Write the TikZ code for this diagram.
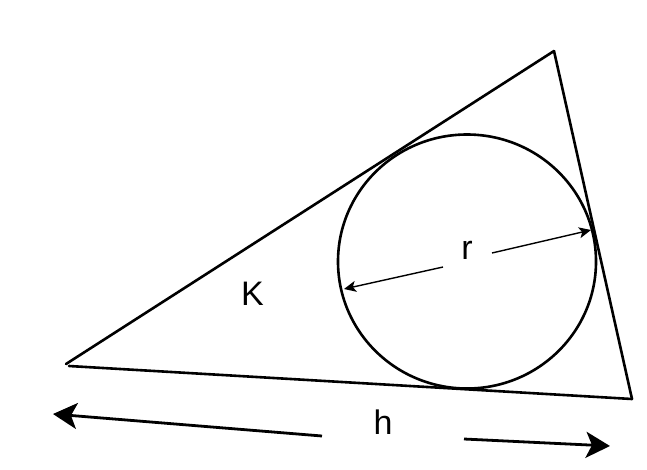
\documentclass[tikz,border=0pt]{standalone}
\usepackage{fontspec}
\setmainfont{Liberation Sans}
\usetikzlibrary{arrows.meta}
\begin{document}
\begin{tikzpicture}[x=1pt,y=-1pt,
  edge/.style={line width=2.6pt},
  bigarrow/.style={line width=2.8pt,-{Stealth[length=24pt,width=26pt,inset=6pt]}},
  smallarrow/.style={line width=1.4pt,-{Stealth[length=12pt,width=11pt,inset=3pt]}},
  lbl/.style={font=\fontsize{34}{40}\selectfont,inner sep=0pt}]
\useasboundingbox (0,0) rectangle (647,469);
\coordinate (A) at (66,364);
\coordinate (A2) at (69,366);
\coordinate (B) at (554,51);
\coordinate (C) at (632,399);
\coordinate (O) at (467,261.5);
\draw[edge,line cap=round] (A) -- (B);
\draw[edge,line cap=round] (B) -- (C);
\draw[edge,line cap=round] (A2) -- (C);
\draw[edge] (O) ellipse [x radius=129, y radius=127];
\node[lbl] (K) at (252.5,294) {K};
\node[lbl] (r) at (467,250) {r};
\node[lbl] (h) at (383,422) {h};
\coordinate (rl) at (443,267);
\coordinate (rr) at (492,253);
\coordinate (rlt) at (344,289);
\coordinate (rrt) at (591,230);
\draw[smallarrow] (rl) -- (rlt);
\draw[smallarrow] (rr) -- (rrt);
\coordinate (hl) at (322,436);
\coordinate (hr) at (464,439);
\coordinate (hlt) at (53,414);
\coordinate (hrt) at (610,446);
\draw[bigarrow] (hl) -- (hlt);
\draw[bigarrow] (hr) -- (hrt);
\end{tikzpicture}
\end{document}
